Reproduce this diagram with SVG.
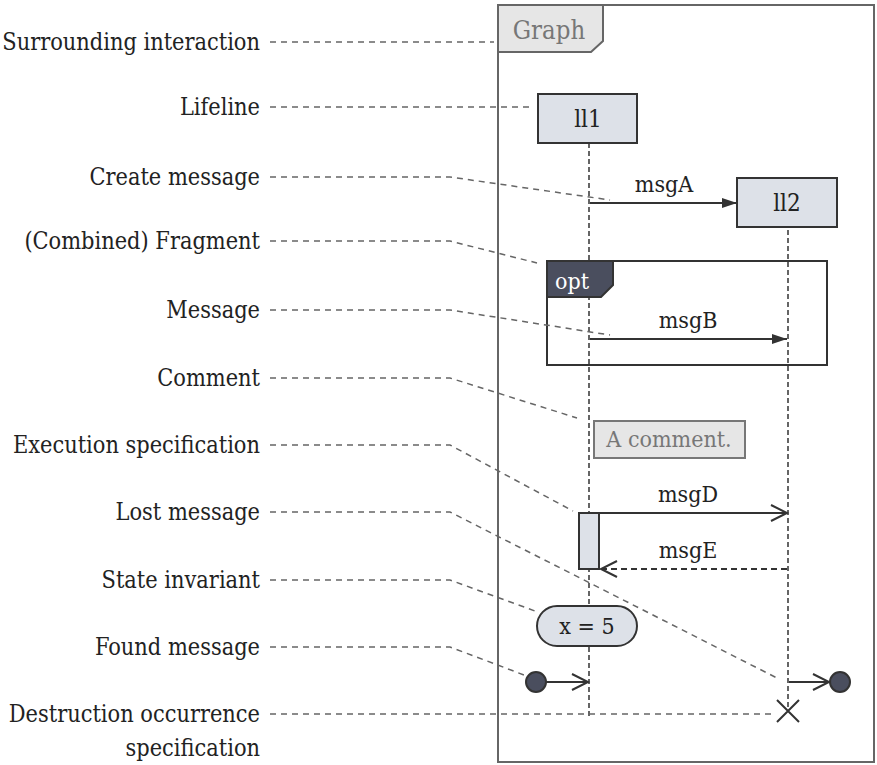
<svg xmlns="http://www.w3.org/2000/svg" width="877" height="765" viewBox="0 0 877 765">
<style>
text{font-family:"DejaVu Serif Condensed","DejaVu Serif","Liberation Serif",serif;font-size:23px;fill:#222}
.lbl{text-anchor:end;font-size:23.3px}
.c{text-anchor:middle}
.lead{fill:none;stroke:#666;stroke-width:1.5;stroke-dasharray:6 5}
.life{fill:none;stroke:#333;stroke-width:1.5;stroke-dasharray:5 3}
.box{fill:#dde1e8;stroke:#333;stroke-width:2}
.msg{fill:none;stroke:#333;stroke-width:2}
.dark{fill:#4a4e5e;stroke:#333;stroke-width:2}
</style>
<defs>
<marker id="fill" markerWidth="16" markerHeight="12" refX="15" refY="6" orient="auto" markerUnits="userSpaceOnUse">
<path d="M0,1 L15,6 L0,11 Z" fill="#333"/>
</marker>
<marker id="open" markerWidth="20" markerHeight="20" refX="17" refY="10" orient="auto" markerUnits="userSpaceOnUse">
<path d="M1,2 L17,10 L1,18" fill="none" stroke="#333" stroke-width="2"/>
</marker>
</defs>
<g id="frame">
<rect x="498" y="5" width="376" height="757" fill="none" stroke="#666" stroke-width="2"/>
<path d="M498,5 H603 V41 L591,52 H498 Z" fill="#e6e6e6" stroke="#666" stroke-width="2"/>
<text x="549" y="39" class="c" style="fill:#777;font-size:25.5px">Graph</text>
</g>
<g id="labels">
<text class="lbl" x="260" y="50">Surrounding interaction</text>
<text class="lbl" x="260" y="115">Lifeline</text>
<text class="lbl" x="260" y="185">Create message</text>
<text class="lbl" x="260" y="249">(Combined) Fragment</text>
<text class="lbl" x="260" y="318">Message</text>
<text class="lbl" x="260" y="386">Comment</text>
<text class="lbl" x="260" y="453">Execution specification</text>
<text class="lbl" x="260" y="520">Lost message</text>
<text class="lbl" x="260" y="588">State invariant</text>
<text class="lbl" x="260" y="655">Found message</text>
<text class="lbl" x="260" y="722">Destruction occurrence</text>
<text class="lbl" x="260" y="756">specification</text>
</g>
<g id="lifelines">
<path class="life" d="M589,143 V719"/>
<path class="life" d="M788,230 V711"/>
</g>
<g id="ll1">
<rect class="box" x="538" y="94" width="99" height="49"/>
<text class="c" x="588" y="127" style="font-size:24px">ll1</text>
</g>
<g id="ll2">
<rect class="box" x="737" y="178" width="100" height="49"/>
<text class="c" x="787" y="211" style="font-size:24px">ll2</text>
</g>
<g id="fragment">
<rect x="547" y="261" width="280" height="104" fill="none" stroke="#333" stroke-width="2"/>
<path class="dark" d="M547,261 H613 V285 L601,297 H547 Z"/>
<text x="555" y="289" style="fill:#fff">opt</text>
</g>
<g id="comment">
<rect x="594" y="421" width="151" height="37" fill="#e6e6e6" stroke="#777" stroke-width="2"/>
<text class="c" x="669" y="447" style="fill:#777">A comment.</text>
</g>
<g id="execspec">
<rect class="box" x="579" y="513" width="20" height="56"/>
</g>
<g id="invariant">
<rect class="box" x="537" y="606" width="100" height="40" rx="20" ry="20"/>
<text class="c" x="587" y="634">x = 5</text>
</g>
<g id="found">
<circle class="dark" cx="536" cy="682" r="10"/>
</g>
<g id="lost">
<circle class="dark" cx="840" cy="682" r="10"/>
</g>
<g id="destruction">
<path d="M777,700 L799,722 M799,700 L777,722" stroke="#333" stroke-width="2" fill="none"/>
</g>
<g id="connectors">
<path class="msg" d="M590,203 H737" marker-end="url(#fill)"/>
<text class="c" x="664" y="192">msgA</text>
<path class="msg" d="M590,339 H787" marker-end="url(#fill)"/>
<text class="c" x="688" y="328">msgB</text>
<path class="msg" d="M600,513 H787" marker-end="url(#open)"/>
<text class="c" x="688" y="502">msgD</text>
<path class="msg" d="M787,569 H601" stroke-dasharray="6 4" marker-end="url(#open)"/>
<text class="c" x="688" y="558">msgE</text>
<path class="msg" d="M546,682 H588" marker-end="url(#open)"/>
<path class="msg" d="M789,682 H829" marker-end="url(#open)"/>
<path class="lead" d="M270,42 H494"/>
<path class="lead" d="M270,107 H530"/>
<path class="lead" d="M270,177 H450 L610,200"/>
<path class="lead" d="M270,241 H450 L537,263"/>
<path class="lead" d="M270,310 H450 L610,335"/>
<path class="lead" d="M270,378 H450 L577,418"/>
<path class="lead" d="M270,445 H450 L573,511"/>
<path class="lead" d="M270,512 H450 L777,678"/>
<path class="lead" d="M270,580 H450 L535,611"/>
<path class="lead" d="M270,647 H450 L524,675"/>
<path class="lead" d="M270,714 H772"/>
</g>
</svg>
